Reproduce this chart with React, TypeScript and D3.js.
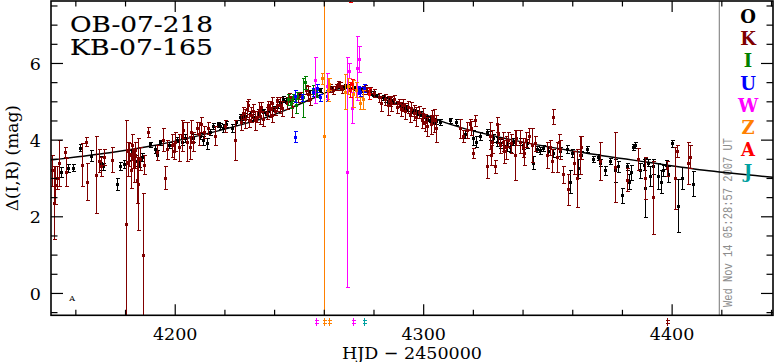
import React from "react";
import * as d3 from "d3";

// [HJD-2450000, delta mag, error]
const oPoints: [number, number, number][] = [
  [4154.0, 3.16, 0.13], [4156.8, 3.26, 0.1], [4158.9, 3.27, 0.1], [4161.7, 3.79, 0.09],
  [4166.1, 3.58, 0.15], [4170.2, 3.4, 0.18], [4171.0, 3.3, 0.1], [4176.6, 2.85, 0.16],
  [4177.8, 3.32, 0.1], [4179.3, 3.36, 0.1], [4182.2, 3.6, 0.12], [4183.8, 3.45, 0.15],
  [4185.4, 3.4, 0.12], [4186.5, 3.55, 0.1], [4189.8, 3.88, 0.07], [4191.9, 3.75, 0.1],
  [4192.7, 3.6, 0.12], [4193.9, 3.93, 0.06], [4197.5, 3.85, 0.08], [4200.7, 4.0, 0.07],
  [4202.7, 3.95, 0.08], [4203.9, 4.05, 0.1], [4207.0, 4.05, 0.1], [4210.0, 4.1, 0.08],
  [4211.2, 3.98, 0.12], [4212.8, 3.9, 0.15], [4214.0, 4.2, 0.08], [4215.2, 4.35, 0.08],
  [4217.2, 4.4, 0.06], [4218.0, 4.36, 0.07], [4219.2, 4.3, 0.1], [4220.5, 4.4, 0.08],
  [4222.9, 4.3, 0.1], [4224.5, 4.45, 0.07], [4226.1, 4.6, 0.08], [4227.0, 4.55, 0.1],
  [4228.0, 4.62, 0.08], [4230.1, 4.68, 0.07], [4231.3, 4.58, 0.08], [4233.5, 4.72, 0.07],
  [4235.3, 4.75, 0.06], [4236.5, 4.7, 0.06], [4237.5, 4.78, 0.06], [4239.4, 4.82, 0.06],
  [4241.0, 4.88, 0.06], [4242.2, 4.95, 0.06], [4243.4, 5.05, 0.08], [4244.6, 5.02, 0.06],
  [4246.2, 5.08, 0.06], [4248.0, 5.12, 0.05], [4250.2, 5.2, 0.05], [4254.0, 5.25, 0.05],
  [4258.3, 5.3, 0.05], [4263.0, 5.35, 0.05], [4265.0, 5.38, 0.04], [4267.5, 5.38, 0.05],
  [4268.3, 5.4, 0.05], [4270.0, 5.4, 0.05], [4272.0, 5.35, 0.05], [4275.0, 5.3, 0.05],
  [4278.4, 5.22, 0.05], [4279.6, 5.2, 0.06], [4281.0, 5.15, 0.05], [4283.6, 5.1, 0.06],
  [4284.4, 5.05, 0.06], [4285.6, 5.02, 0.06], [4286.5, 5.0, 0.05], [4287.7, 5.0, 0.06],
  [4289.3, 4.95, 0.06], [4290.5, 4.9, 0.06], [4291.7, 4.85, 0.06], [4292.5, 4.85, 0.05],
  [4293.3, 4.82, 0.06], [4295.7, 4.75, 0.06], [4296.9, 4.72, 0.06], [4297.5, 4.7, 0.05],
  [4298.5, 4.68, 0.06], [4300.0, 4.62, 0.06], [4301.3, 4.55, 0.06], [4302.5, 4.52, 0.06],
  [4303.8, 4.5, 0.06], [4305.0, 4.48, 0.07], [4306.6, 4.45, 0.08], [4310.6, 4.5, 0.07],
  [4313.0, 4.47, 0.08], [4316.6, 4.15, 0.1], [4319.9, 4.05, 0.2], [4321.0, 3.95, 0.15],
  [4322.5, 4.1, 0.1], [4325.5, 4.2, 0.07], [4326.7, 4.1, 0.12], [4327.9, 4.05, 0.1],
  [4329.5, 3.95, 0.12], [4330.7, 3.9, 0.12], [4331.9, 3.95, 0.1], [4333.5, 3.85, 0.15],
  [4334.7, 3.8, 0.12], [4336.0, 3.95, 0.08], [4338.8, 3.95, 0.1], [4340.0, 3.85, 0.1],
  [4341.6, 3.9, 0.12], [4344.0, 3.4, 0.17], [4345.6, 3.75, 0.08], [4346.8, 3.72, 0.1],
  [4348.0, 3.78, 0.08], [4350.0, 3.7, 0.1], [4352.1, 3.65, 0.1], [4354.9, 3.7, 0.12],
  [4357.7, 3.75, 0.1], [4358.9, 2.9, 0.3], [4359.7, 3.65, 0.1], [4362.1, 3.25, 0.25],
  [4363.5, 3.6, 0.1], [4365.7, 3.75, 0.08], [4368.2, 3.5, 0.08], [4370.0, 3.55, 0.08],
  [4371.0, 3.4, 0.1], [4373.0, 3.2, 0.12], [4375.0, 3.45, 0.08], [4377.0, 3.2, 0.3],
  [4378.2, 3.3, 0.15], [4379.8, 2.55, 0.2], [4381.8, 3.3, 0.1], [4382.6, 2.9, 0.2],
  [4383.4, 3.15, 0.2], [4384.3, 3.8, 0.08], [4385.1, 3.85, 0.08], [4387.0, 3.2, 0.2],
  [4388.5, 3.35, 0.15], [4389.1, 2.75, 0.78], [4390.3, 3.4, 0.1], [4391.0, 3.05, 0.25],
  [4392.3, 3.3, 0.2], [4394.3, 3.05, 0.35], [4395.5, 2.9, 0.3], [4396.5, 3.2, 0.15],
  [4397.5, 3.35, 0.12], [4398.5, 3.1, 0.2], [4399.9, 3.9, 0.08], [4402.4, 2.28, 0.7],
  [4404.0, 3.0, 0.28], [4408.4, 2.85, 0.33],
];

const kPoints: [number, number, number][] = [
  [4150.5, 3.2, 0.4], [4151.2, 2.35, 0.95], [4151.8, 2.82, 0.5], [4152.6, 3.0, 0.3],
  [4153.2, 3.4, 0.6], [4155.6, 3.69, 0.13], [4156.0, 3.16, 0.37], [4162.5, 3.35, 0.57],
  [4164.1, 3.95, 0.12], [4164.5, 2.9, 0.48], [4168.1, 3.09, 1.0], [4169.5, 3.45, 0.3],
  [4170.3, 3.3, 0.25], [4171.2, 3.55, 0.2], [4174.6, 3.48, 0.33], [4180.2, 1.8, 2.7],
  [4180.8, 3.4, 0.35], [4181.0, 3.7, 0.25], [4181.5, 3.6, 0.3], [4182.2, 3.2, 0.45],
  [4182.8, 3.85, 0.3], [4183.0, 3.5, 0.25], [4183.5, 3.3, 0.4], [4183.8, 3.75, 0.2],
  [4184.0, 3.6, 0.35], [4184.5, 2.95, 0.6], [4185.0, 2.85, 1.2], [4186.0, 3.5, 0.3],
  [4187.0, 1.0, 1.6], [4187.6, 3.35, 0.25], [4189.0, 4.2, 0.12], [4192.7, 3.67, 0.2],
  [4195.1, 4.0, 0.3], [4195.9, 3.0, 0.3], [4196.5, 3.75, 0.25], [4198.7, 3.85, 0.3],
  [4199.5, 3.7, 0.2], [4200.0, 3.95, 0.25], [4201.5, 3.8, 0.35], [4202.7, 4.1, 0.4],
  [4203.2, 4.25, 0.2], [4204.7, 3.95, 0.52], [4205.9, 3.8, 0.3], [4206.5, 4.2, 0.3],
  [4207.2, 3.95, 0.25], [4208.8, 4.3, 0.15], [4209.5, 4.15, 0.3], [4210.5, 4.4, 0.2],
  [4211.5, 4.2, 0.15], [4213.0, 4.3, 0.15], [4216.0, 4.1, 0.25], [4220.0, 4.35, 0.15],
  [4224.1, 4.0, 0.52], [4226.5, 4.45, 0.2], [4227.3, 4.7, 0.15], [4228.0, 4.55, 0.25],
  [4228.9, 4.8, 0.2], [4229.2, 4.9, 0.15], [4229.8, 4.5, 0.18], [4230.5, 4.65, 0.2],
  [4231.5, 4.75, 0.18], [4232.0, 4.5, 0.25], [4232.9, 4.6, 0.15], [4233.8, 4.78, 0.2],
  [4234.0, 4.62, 0.22], [4234.6, 4.85, 0.12], [4235.5, 4.55, 0.2], [4236.9, 4.7, 0.15],
  [4237.5, 4.9, 0.12], [4238.1, 4.8, 0.2], [4238.8, 4.65, 0.2], [4239.0, 4.95, 0.15],
  [4240.2, 4.75, 0.1], [4240.8, 5.0, 0.12], [4241.0, 4.9, 0.15], [4242.2, 4.9, 0.2],
  [4243.0, 4.82, 0.2], [4244.8, 4.95, 0.15], [4245.8, 5.1, 0.12], [4246.5, 5.05, 0.1],
  [4247.0, 4.85, 0.25], [4249.5, 5.1, 0.12], [4250.5, 5.15, 0.1], [4252.8, 5.3, 0.12],
  [4253.4, 5.2, 0.2], [4254.2, 5.05, 0.15], [4262.3, 5.35, 0.1], [4263.5, 5.3, 0.1],
  [4264.7, 5.38, 0.08], [4265.5, 5.45, 0.08], [4266.3, 5.4, 0.1], [4267.0, 5.32, 0.1],
  [4275.6, 5.3, 0.1], [4276.5, 5.35, 0.08], [4277.0, 5.28, 0.1], [4278.4, 5.3, 0.08],
  [4280.0, 5.22, 0.1], [4282.0, 5.1, 0.12], [4283.0, 4.95, 0.2], [4284.4, 5.05, 0.15],
  [4285.6, 4.9, 0.25], [4286.4, 5.0, 0.12], [4287.0, 4.95, 0.2], [4288.0, 5.05, 0.12],
  [4289.3, 4.85, 0.15], [4290.0, 4.95, 0.1], [4291.0, 4.8, 0.18], [4291.5, 4.9, 0.15],
  [4292.5, 4.75, 0.2], [4293.5, 4.85, 0.15], [4294.5, 4.65, 0.2], [4295.0, 4.8, 0.18],
  [4296.0, 4.7, 0.2], [4297.0, 4.6, 0.25], [4298.0, 4.72, 0.15], [4299.3, 4.5, 0.2],
  [4299.8, 4.62, 0.2], [4300.5, 4.45, 0.22], [4301.5, 4.35, 0.25], [4302.8, 4.4, 0.25],
  [4303.2, 4.6, 0.18], [4304.0, 4.5, 0.3], [4305.0, 4.3, 0.35], [4314.6, 4.3, 0.25],
  [4315.8, 4.1, 0.15], [4317.5, 4.25, 0.2], [4318.6, 4.4, 0.15], [4319.2, 4.3, 0.18],
  [4319.9, 3.64, 0.13], [4320.5, 4.5, 0.15], [4325.5, 3.3, 0.3], [4326.7, 4.1, 0.35],
  [4327.0, 3.6, 0.25], [4327.5, 3.95, 0.3], [4328.7, 3.3, 0.18], [4329.5, 4.4, 0.2],
  [4330.0, 4.15, 0.25], [4330.7, 3.85, 0.2], [4331.9, 3.95, 0.25], [4332.5, 3.7, 0.3],
  [4333.0, 3.8, 0.3], [4334.0, 4.0, 0.2], [4335.0, 3.9, 0.25], [4336.8, 3.6, 0.65],
  [4337.2, 4.05, 0.2], [4338.8, 3.95, 0.3], [4339.8, 3.8, 0.25], [4340.5, 3.65, 0.3],
  [4341.0, 4.0, 0.2], [4342.5, 4.1, 0.2], [4343.6, 3.86, 0.45], [4345.0, 3.9, 0.2],
  [4349.6, 3.6, 0.33], [4350.8, 3.8, 0.2], [4351.5, 3.45, 0.3], [4352.1, 4.6, 0.2],
  [4353.7, 3.55, 0.4], [4354.5, 3.95, 0.2], [4355.0, 3.75, 0.25], [4356.1, 3.1, 0.22],
  [4358.1, 2.7, 0.4], [4360.5, 3.4, 0.3], [4361.7, 3.0, 0.75], [4362.9, 3.6, 0.5],
  [4363.5, 3.8, 0.3], [4371.0, 3.45, 0.5], [4377.0, 3.28, 0.92], [4381.8, 2.95, 0.3],
  [4386.3, 3.5, 0.28], [4389.1, 3.0, 0.55], [4392.3, 2.5, 0.95], [4397.9, 3.25, 0.2],
  [4401.2, 3.0, 0.8], [4402.0, 3.7, 0.15], [4406.4, 3.4, 0.55], [4407.2, 3.55, 0.3],
];

const iPoints: [number, number, number][] = [
  [4245.5, 5.05, 0.15], [4246.5, 4.95, 0.12], [4247.5, 5.1, 0.1], [4248.5, 4.9, 0.2],
  [4249.0, 5.15, 0.1], [4251.4, 5.1, 0.5], [4252.2, 5.5, 0.17], [4255.5, 5.3, 0.12],
  [4256.5, 5.2, 0.1],
];

const uPoints: [number, number, number][] = [
  [4248.1, 5.14, 0.16], [4248.1, 4.08, 0.15], [4251.0, 5.1, 0.08], [4255.5, 5.25, 0.1],
  [4257.0, 5.35, 0.1], [4258.3, 5.1, 0.1], [4261.1, 5.15, 0.15], [4273.5, 5.3, 0.1],
  [4274.5, 5.25, 0.12], [4276.0, 5.35, 0.1],
];

const wPoints: [number, number, number][] = [
  [4256.3, 5.56, 0.6], [4261.1, 5.4, 0.35], [4269.1, 3.15, 3.0], [4269.8, 5.8, 0.2],
  [4271.1, 4.83, 0.4], [4273.2, 5.87, 0.83], [4273.8, 6.1, 0.33],
];

const zPoints: [number, number, number][] = [
  [4259.1, 5.6, 0.15], [4260.0, 4.1, 4.8], [4261.5, 5.3, 0.3], [4262.0, 5.45, 0.15],
  [4268.3, 5.25, 0.45], [4269.5, 5.4, 0.2], [4271.6, 5.2, 0.35], [4272.8, 5.3, 0.2],
  [4274.4, 4.95, 0.15], [4275.5, 5.05, 0.25],
];

const aPoints: [number, number, number][] = [
  [4270.3, 5.3, 0.2], [4271.0, 5.45, 0.12], [4278.0, 5.2, 0.15], [4270.5, 7.7, 0.1],
];

const jPoints: [number, number, number][] = [];

// points below the plotted range, flagged under the axis
const offW = [4256.5, 4271.7];
const offZ = [4260.0, 4261.9];
const offJ = [4276.0];
const offK = [4398.0];

// model light curve
const modelT = [4150, 4160, 4173.6, 4189.7, 4205.8, 4225.9, 4239.1, 4247.2, 4255, 4262, 4268, 4272, 4278, 4285, 4294.3, 4309, 4336, 4362.6, 4389.4, 4414.8, 4440.6];
const modelV = [3.48, 3.56, 3.67, 3.84, 4.06, 4.39, 4.65, 4.86, 5.08, 5.27, 5.36, 5.36, 5.25, 5.05, 4.84, 4.45, 4.0, 3.69, 3.43, 3.2, 3.03];

const legendLabels = ["O", "K", "I", "U", "W", "Z", "A", "J"];
const legendColors = ["#000000", "#800000", "#008000", "#0000ff", "#ff00ff", "#ff8000", "#ff0000", "#00a0a0"];

const xMajor = [4200, 4300, 4400];
const yMajor = [0, 2, 4, 6];

const W = 775;
const H = 362;
const L = 51, R = 773, T = 1, B = 315.3;

const App: React.FC = () => {
  const x = d3.scaleLinear().domain([4150, 4440.6]).range([L, R]);
  const y = d3.scaleLinear().domain([-0.57, 7.63]).range([B, T]);
  const xMinor = d3.range(4160, 4441, 20);
  const yMinor = d3.range(-0.5, 7.6, 0.5);

  const series = [oPoints, kPoints, iPoints, uPoints, wPoints, zPoints, aPoints, jPoints];
  const offs: [number[], string][] = [[offW, legendColors[4]], [offZ, legendColors[5]], [offJ, legendColors[7]], [offK, legendColors[1]]];

  const line = d3
    .line<number>()
    .x((_, i) => x(modelT[i]))
    .y((v) => y(v))
    .curve(d3.curveMonotoneX);

  const serif = "DejaVu Serif";

  return (
    <svg width={W} height={H} style={{ position: "fixed", left: 0, top: 0, background: "#fff" }}>
      <defs>
        <clipPath id="plot">
          <rect x={L} y={T} width={R - L} height={B - T} />
        </clipPath>
      </defs>
      <rect width={W} height={H} fill="#fff" />

      {/* timestamp */}
      <line x1={x(4419)} x2={x(4419)} y1={T} y2={B} stroke="#8c8c8c" strokeWidth={1.2} />
      <text
        transform={`translate(731.5,307) rotate(-90)`}
        fontFamily="Liberation Mono"
        fontSize={12}
        fill="#8c8c8c"
        textLength={169}
        lengthAdjust="spacingAndGlyphs"
      >
        Wed Nov 14 05:28:57 2007 UT
      </text>

      <g clipPath="url(#plot)">
        <path d={line(modelV) || ""} fill="none" stroke="#000" strokeWidth={1.4} />
        {series.map((pts, si) => (
          <g key={si} stroke={legendColors[si]} fill={legendColors[si]} strokeWidth={1} shapeRendering="crispEdges">
            {pts.map(([t, v, e], i) => {
              const px = Math.round(x(t)) + 0.5;
              const y1 = y(v + e);
              const y2 = y(v - e);
              return (
                <g key={i}>
                  <line x1={px} x2={px} y1={y1} y2={y2} />
                  <line x1={px - 2} x2={px + 2} y1={y1} y2={y1} />
                  <line x1={px - 2} x2={px + 2} y1={y2} y2={y2} />
                  <rect x={px - 1.5} y={y(v) - 1.5} width={3} height={3} stroke="none" />
                </g>
              );
            })}
          </g>
        ))}
      </g>

      {offs.map(([ts, c], k) =>
        ts.map((t, i) => {
          const px = Math.round(x(t)) + 0.5;
          return (
            <g key={`${k}-${i}`} stroke={c} strokeWidth={1} shapeRendering="crispEdges">
              <line x1={px} x2={px} y1={318} y2={326} />
              <line x1={px - 2} x2={px + 2} y1={320.5} y2={320.5} />
              <line x1={px - 2} x2={px + 2} y1={323.5} y2={323.5} />
            </g>
          );
        })
      )}

      <text x={x(4158.5)} y={y(-0.12) + 3} fontFamily={serif} fontSize={8} textAnchor="middle" fill="#000">
        A
      </text>

      {/* frame and ticks */}
      <rect x={L} y={T} width={R - L} height={B - T} fill="none" stroke="#000" strokeWidth={1.6} />
      <g stroke="#000" strokeWidth={1.2}>
        {xMinor.map((t) => {
          const major = xMajor.includes(t);
          const len = major ? 11 : 5.5;
          return (
            <g key={t}>
              <line x1={x(t)} x2={x(t)} y1={B} y2={B - len} />
              <line x1={x(t)} x2={x(t)} y1={T} y2={T + len} />
            </g>
          );
        })}
        {yMinor.map((v) => {
          const major = yMajor.includes(v);
          const len = major ? 12 : 6.5;
          return (
            <g key={v}>
              <line x1={L} x2={L + len} y1={y(v)} y2={y(v)} />
              <line x1={R} x2={R - len} y1={y(v)} y2={y(v)} />
            </g>
          );
        })}
      </g>

      {xMajor.map((t) => (
        <text key={t} x={x(t)} y={339.5} fontFamily={serif} fontSize={17.5} textAnchor="middle" fill="#000">
          {t}
        </text>
      ))}
      {yMajor.map((v) => (
        <text key={v} x={41} y={y(v) + 6.5} fontFamily={serif} fontSize={17.5} textAnchor="end" fill="#000">
          {v}
        </text>
      ))}

      <text x={(L + R) / 2} y={359} fontFamily={serif} fontSize={17.5} textAnchor="middle" fill="#000">
        HJD − 2450000
      </text>
      <text
        transform={`translate(18,${(T + B) / 2}) rotate(-90)`}
        fontFamily={serif}
        fontSize={17}
        textAnchor="middle"
        fill="#000"
      >
        Δ(I,R) (mag)
      </text>

      <text x={70} y={32} fontFamily={serif} fontSize={22} textLength={143} lengthAdjust="spacingAndGlyphs" stroke="#000" strokeWidth={0.15} fill="#000">
        OB-07-218
      </text>
      <text x={70} y={55} fontFamily={serif} fontSize={22} textLength={143} lengthAdjust="spacingAndGlyphs" stroke="#000" strokeWidth={0.15} fill="#000">
        KB-07-165
      </text>

      {legendLabels.map((lab, i) => (
        <text
          key={lab}
          x={748}
          y={23 + i * 22.2}
          fontFamily={serif}
          fontWeight="bold"
          fontSize={18}
          textAnchor="middle"
          fill={legendColors[i]}
        >
          {lab}
        </text>
      ))}
    </svg>
  );
};

export default App;
